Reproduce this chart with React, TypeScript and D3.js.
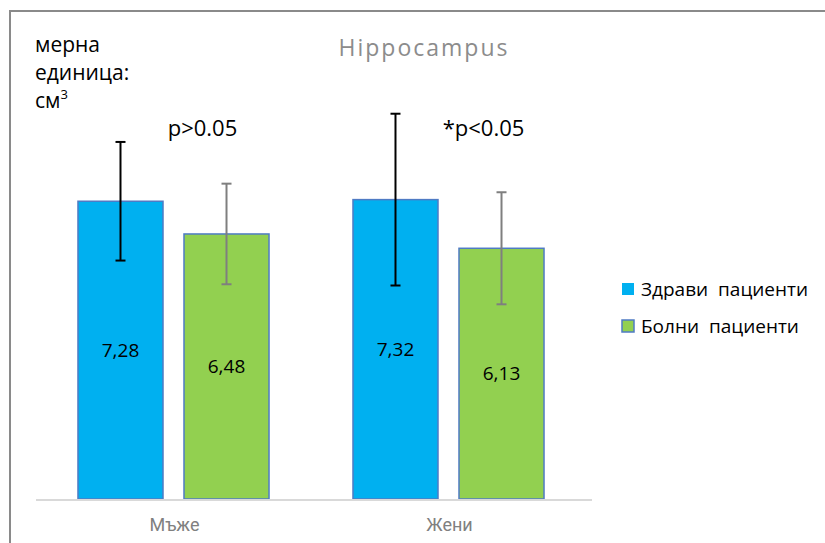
import React from "react";
import * as d3 from "d3";

// Hippocampus volume (cm³) by sex, healthy vs. ill patients, with SD error bars
const categories = ["Мъже", "Жени"];
const seriesNames = ["Здрави  пациенти", "Болни  пациенти"];
const healthyValues = [7.28, 7.32];
const illValues = [6.48, 6.13];
const healthySD = [1.45, 2.1];
const illSD = [1.23, 1.37];
const valueLabels = [["7,28", "7,32"], ["6,48", "6,13"]];
const pLabels = ["p>0.05", "*p<0.05"];
const unitLines = ["мерна", "единица:", "см"];

const W = 825;
const H = 543;
const fills = ["#00B0F0", "#92D050"];
const errColors = ["#000000", "#7F7F7F"];
const font = "'Open Sans', 'Liberation Sans', sans-serif";

export default function App() {
  const x = d3.scaleBand<string>().domain(categories).range([36, 586]).paddingInner(0).paddingOuter(0);
  const xs = d3
    .scaleBand<string>()
    .domain(seriesNames)
    .range([0, x.bandwidth()])
    .paddingInner(0.198)
    .paddingOuter(0.396);
  const y = d3.scaleLinear().domain([0, 10]).range([499, 90]);

  const values = [healthyValues, illValues];
  const sds = [healthySD, illSD];

  return (
    <svg
      width={W}
      height={H}
      style={{ position: "absolute", left: 0, top: 0, background: "#fff" }}
      fontFamily={font}
    >
      {/* frame */}
      <line x1={10} y1={11} x2={W} y2={11} stroke="#8A8A8A" strokeWidth={2} />
      <line x1={10} y1={10} x2={10} y2={H} stroke="#8A8A8A" strokeWidth={2} />

      {/* title */}
      <text x={424} y={56} textAnchor="middle" fontSize={23} fill="#8C8C8C" letterSpacing={2}>
        Hippocampus
      </text>

      {/* unit label */}
      {unitLines.map((t, i) => (
        <text key={t} x={35} y={52 + i * 28} fontSize={21} fill="#000">
          {t}
          {i === 2 ? (
            <tspan fontSize={13} dy={-9}>
              3
            </tspan>
          ) : null}
        </text>
      ))}

      {/* bars */}
      {seriesNames.map((s, si) =>
        categories.map((c, ci) => {
          const v = values[si][ci];
          const bx = (x(c) as number) + (xs(s) as number);
          const bw = xs.bandwidth();
          return (
            <g key={s + c}>
              <rect
                x={bx}
                y={y(v)}
                width={bw}
                height={y(0) - y(v)}
                fill={fills[si]}
                stroke="#4F7BC4"
                strokeWidth={1.5}
              />
              <text
                x={bx + bw / 2}
                y={(y(v) + y(0)) / 2}
                dy="0.35em"
                textAnchor="middle"
                fontSize={19}
                fill="#000"
              >
                {valueLabels[si][ci]}
              </text>
            </g>
          );
        })
      )}

      {/* error bars */}
      {seriesNames.map((s, si) =>
        categories.map((c, ci) => {
          const v = values[si][ci];
          const sd = sds[si][ci];
          const cx = (x(c) as number) + (xs(s) as number) + xs.bandwidth() / 2;
          const y1 = y(v + sd);
          const y2 = y(v - sd);
          return (
            <g key={"e" + s + c} stroke={errColors[si]} strokeWidth={2}>
              <line x1={cx} x2={cx} y1={y1} y2={y2} />
              <line x1={cx - 5} x2={cx + 5} y1={y1} y2={y1} />
              <line x1={cx - 5} x2={cx + 5} y1={y2} y2={y2} />
            </g>
          );
        })
      )}

      {/* p-value annotations */}
      {categories.map((c, ci) => (
        <text
          key={"p" + c}
          x={(x(c) as number) + x.bandwidth() / 2 + (ci === 0 ? 29 : 35)}
          y={136}
          textAnchor="middle"
          fontSize={22}
          fill="#000"
        >
          {pLabels[ci]}
        </text>
      ))}

      {/* category axis */}
      <line x1={36} x2={592} y1={500} y2={500} stroke="#D9D9D9" strokeWidth={2} />
      {categories.map((c) => (
        <text
          key={"l" + c}
          x={(x(c) as number) + x.bandwidth() / 2 + 1}
          y={531}
          textAnchor="middle"
          fontSize={18}
          fill="#808080"
          fontFamily="Roboto, sans-serif"
        >
          {c}
        </text>
      ))}

      {/* legend */}
      {seriesNames.map((s, si) => (
        <g key={"lg" + s} transform={`translate(622, ${283 + si * 37})`}>
          <rect
            x={0}
            y={0}
            width={12}
            height={12}
            fill={fills[si]}
            stroke={si === 1 ? "#4F7BC4" : "none"}
            strokeWidth={1.5}
          />
          <text x={19} y={6} dy="0.35em" fontSize={19} fill="#000" style={{ whiteSpace: "pre" }}>
            {s}
          </text>
        </g>
      ))}
    </svg>
  );
}
